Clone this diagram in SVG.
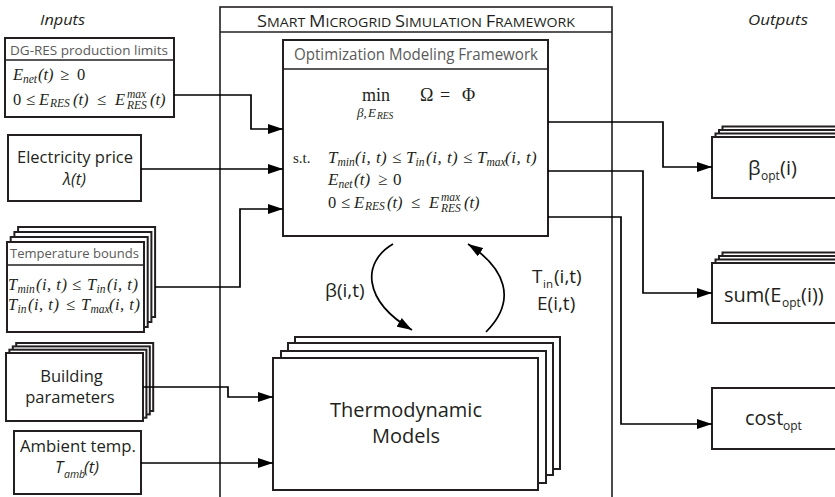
<svg xmlns="http://www.w3.org/2000/svg" width="835" height="497" viewBox="0 0 835 497">
<style>
  .box { fill: #fff; stroke: #231f20; stroke-width: 2; }
  .frame { fill: none; stroke: #231f20; stroke-width: 1.6; }
  .div { stroke: #231f20; stroke-width: 1.6; }
  .conn { fill: none; stroke: #000; stroke-width: 1.7; }
  .sans { font-family: "Open Sans", "Noto Sans", "Liberation Sans", sans-serif; fill: #231f20; }
  .gray { font-family: "Open Sans", "Noto Sans", "Liberation Sans", sans-serif; fill: #5a5a5a; }
  .it { font-style: italic; }
  .math { font-family: "Liberation Serif", "DejaVu Serif", serif; fill: #231f20; font-style: italic; }
  .up { font-style: normal; }
  .ls { letter-spacing: 0.5px; }
</style>
<defs>
  <marker id="arr" markerWidth="16" markerHeight="10" refX="15" refY="5" orient="auto" markerUnits="userSpaceOnUse">
    <path d="M0,0 L15,5 L0,10 z" fill="#000"/>
  </marker>
</defs>

<!-- Column labels -->
<text class="sans it" x="40" y="25" font-size="15" textLength="45" lengthAdjust="spacingAndGlyphs">Inputs</text>
<text class="sans it" x="748" y="25" font-size="15" textLength="60" lengthAdjust="spacingAndGlyphs">Outputs</text>

<!-- Framework container -->
<g id="framework">
  <rect class="frame" x="220" y="7" width="392" height="500"/>
  <line class="div" x1="220" y1="32" x2="612" y2="32"/>
  <text class="sans" x="257" y="27" textLength="318" lengthAdjust="spacingAndGlyphs"><tspan font-size="15.5">S</tspan><tspan font-size="12">MART </tspan><tspan font-size="15.5">M</tspan><tspan font-size="12">ICROGRID </tspan><tspan font-size="15.5">S</tspan><tspan font-size="12">IMULATION </tspan><tspan font-size="15.5">F</tspan><tspan font-size="12">RAMEWORK</tspan></text>
</g>

<!-- Optimization box -->
<g id="optimization">
  <rect class="box" x="283" y="40" width="265" height="196"/>
  <line class="div" x1="283" y1="69" x2="548" y2="69"/>
  <text class="gray" x="294" y="60" font-size="15.5" textLength="244" lengthAdjust="spacingAndGlyphs">Optimization Modeling Framework</text>
  <text class="math up" x="362" y="101" font-size="18">min</text>
  <text class="math" font-size="13"><tspan x="357" y="117">β,</tspan><tspan x="368" y="117">E</tspan><tspan x="377" y="119" font-size="9.5">RES</tspan></text>
  <text class="math up" font-size="18"><tspan x="420" y="101">Ω</tspan><tspan x="440" y="101">=</tspan><tspan x="462" y="101">Φ</tspan></text>
  <text class="math up" x="293" y="163" font-size="15">s.t.</text>
  <text class="math" font-size="17">
    <tspan x="328" y="163">T</tspan><tspan x="337.5" y="166" font-size="11.5">min</tspan><tspan x="355" y="163" class="ls">(i, t)</tspan>
    <tspan x="392" y="163" class="up">≤</tspan>
    <tspan x="406" y="163">T</tspan><tspan x="415.5" y="166" font-size="11.5">in</tspan><tspan x="426" y="163" class="ls">(i, t)</tspan>
    <tspan x="463" y="163" class="up">≤</tspan>
    <tspan x="477" y="163">T</tspan><tspan x="486.5" y="166" font-size="11.5">max</tspan><tspan x="505" y="163" class="ls">(i, t)</tspan>
  </text>
  <text class="math" font-size="17">
    <tspan x="328" y="185">E</tspan><tspan x="338.5" y="188" font-size="11.5">net</tspan><tspan x="354" y="185">(t)</tspan>
    <tspan x="378" y="185" class="up">≥</tspan><tspan x="393" y="185" class="up">0</tspan>
  </text>
  <text class="math" font-size="16.5">
    <tspan x="328" y="208" class="up">0</tspan>
    <tspan x="341" y="208" class="up">≤</tspan>
    <tspan x="354" y="208">E</tspan><tspan x="365" y="210" font-size="11.5">RES</tspan>
    <tspan x="387" y="208">(t)</tspan>
    <tspan x="411" y="208" class="up">≤</tspan>
    <tspan x="429" y="208">E</tspan><tspan x="441" y="201" font-size="11.5">max</tspan><tspan x="441" y="212" font-size="11.5">RES</tspan>
    <tspan x="464" y="208">(t)</tspan>
  </text>
</g>

<!-- Inputs -->
<g id="dg-res">
  <rect class="box" x="5" y="38" width="169" height="79"/>
  <line class="div" x1="5" y1="60" x2="174" y2="60"/>
  <text class="gray" x="10" y="55" font-size="13.5" textLength="158" lengthAdjust="spacingAndGlyphs">DG-RES production limits</text>
  <text class="math" font-size="16.5">
    <tspan x="13" y="80">E</tspan><tspan x="23" y="83" font-size="11.5">net</tspan><tspan x="38" y="80">(t)</tspan>
    <tspan x="60" y="80" class="up">≥</tspan><tspan x="77" y="80" class="up">0</tspan>
  </text>
  <text class="math" font-size="16.5">
    <tspan x="13" y="105" class="up">0</tspan>
    <tspan x="26" y="105" class="up">≤</tspan>
    <tspan x="39" y="105">E</tspan><tspan x="50" y="107" font-size="11.5">RES</tspan>
    <tspan x="73" y="105">(t)</tspan>
    <tspan x="97" y="105" class="up">≤</tspan>
    <tspan x="115" y="105">E</tspan><tspan x="127" y="98" font-size="11.5">max</tspan><tspan x="127" y="109" font-size="11.5">RES</tspan>
    <tspan x="150" y="105">(t)</tspan>
  </text>
</g>

<g id="electricity-price">
  <rect class="box" x="8" y="135" width="133" height="66"/>
  <text class="sans" x="17" y="163" font-size="16.5" textLength="116" lengthAdjust="spacingAndGlyphs">Electricity price</text>
  <text class="sans it" x="74.5" y="185" font-size="16.5" text-anchor="middle">λ(t)</text>
</g>

<g id="temperature-bounds">
  <rect class="box" x="18.1" y="227" width="137" height="90"/>
  <rect class="box" x="14.4" y="232" width="137" height="90"/>
  <rect class="box" x="10.7" y="237" width="137" height="90"/>
  <rect class="box" x="7" y="242" width="137" height="90"/>
  <line class="div" x1="7" y1="265" x2="144" y2="265"/>
  <text class="gray" x="10" y="258" font-size="13.5" textLength="129" lengthAdjust="spacingAndGlyphs">Temperature bounds</text>
  <text class="math" font-size="16.5">
    <tspan x="8" y="290">T</tspan><tspan x="17.5" y="293" font-size="11.5">min</tspan><tspan x="36" y="290" class="ls">(i, t)</tspan>
    <tspan x="72" y="290" class="up">≤</tspan>
    <tspan x="87" y="290">T</tspan><tspan x="96.5" y="293" font-size="11.5">in</tspan><tspan x="107" y="290" class="ls">(i, t)</tspan>
  </text>
  <text class="math" font-size="16.5">
    <tspan x="8" y="310">T</tspan><tspan x="17.5" y="313" font-size="11.5">in</tspan><tspan x="28" y="310" class="ls">(i, t)</tspan>
    <tspan x="66" y="310" class="up">≤</tspan>
    <tspan x="81" y="310">T</tspan><tspan x="90.5" y="313" font-size="11.5">max</tspan><tspan x="109" y="310" class="ls">(i, t)</tspan>
  </text>
</g>

<g id="building-parameters">
  <rect class="box" x="16.2" y="343" width="137" height="68"/>
  <rect class="box" x="12.8" y="346.4" width="137" height="68"/>
  <rect class="box" x="9.4" y="349.7" width="137" height="68"/>
  <rect class="box" x="6" y="353" width="137" height="68"/>
  <text class="sans" x="71.5" y="382" font-size="16.5" text-anchor="middle">Building</text>
  <text class="sans" x="70" y="403" font-size="16.5" text-anchor="middle">parameters</text>
</g>

<g id="ambient-temp">
  <rect class="box" x="14" y="431" width="127" height="63"/>
  <text class="sans" x="20" y="452" font-size="16.5" textLength="116" lengthAdjust="spacingAndGlyphs">Ambient temp.</text>
  <text class="sans it" font-size="16.5"><tspan x="55" y="473">T</tspan><tspan x="64" y="478" font-size="10.5">amb</tspan><tspan x="84" y="473">(t)</tspan></text>
</g>

<!-- Thermodynamic models -->
<g id="thermodynamic-models">
  <rect class="box" x="295" y="337" width="265" height="132"/>
  <rect class="box" x="288" y="343" width="265" height="132"/>
  <rect class="box" x="281" y="351" width="265" height="132"/>
  <rect class="box" x="273" y="358" width="265" height="132"/>
  <text class="sans" x="406" y="417" font-size="20" text-anchor="middle">Thermodynamic</text>
  <text class="sans" x="406" y="443" font-size="20" text-anchor="middle">Models</text>
</g>

<!-- Outputs -->
<g id="beta-opt">
  <rect class="box" x="722.5" y="126.5" width="130" height="61"/>
  <rect class="box" x="719" y="130" width="130" height="61"/>
  <rect class="box" x="715.5" y="133.5" width="130" height="61"/>
  <rect class="box" x="712" y="137" width="130" height="61"/>
  <text class="sans" font-size="20"><tspan x="748" y="175">β</tspan><tspan x="761" y="180" font-size="12">opt</tspan><tspan x="780" y="175">(i)</tspan></text>
</g>

<g id="sum-e-opt">
  <rect class="box" x="722.5" y="252.5" width="130" height="60"/>
  <rect class="box" x="719" y="256" width="130" height="60"/>
  <rect class="box" x="715.5" y="259.5" width="130" height="60"/>
  <rect class="box" x="712" y="263" width="130" height="60"/>
  <text class="sans" font-size="20"><tspan x="724" y="302">sum(E</tspan><tspan x="782" y="307" font-size="12">opt</tspan><tspan x="801" y="302">(i))</tspan></text>
</g>

<g id="cost-opt">
  <rect class="box" x="712" y="388" width="130" height="61"/>
  <text class="sans" font-size="20"><tspan x="745" y="425">cost</tspan><tspan x="783" y="430" font-size="12">opt</tspan></text>
</g>

<!-- Connectors -->
<g id="connectors">
  <path class="conn" d="M174,95 H251 V129 H283" marker-end="url(#arr)"/>
  <path class="conn" d="M141,169 H283" marker-end="url(#arr)"/>
  <path class="conn" d="M155,287 H240 V209 H283" marker-end="url(#arr)"/>
  <path class="conn" d="M143,387 H228 V397 H273" marker-end="url(#arr)"/>
  <path class="conn" d="M141,463 H273" marker-end="url(#arr)"/>
  <path class="conn" d="M548,122 H663 V167 H712" marker-end="url(#arr)"/>
  <path class="conn" d="M548,171 H643 V293 H712" marker-end="url(#arr)"/>
  <path class="conn" d="M548,217 H621 V424 H712" marker-end="url(#arr)"/>
  <path class="conn" d="M393,244 C362,262 362,300 412,330" marker-end="url(#arr)"/>
  <path class="conn" d="M486,332 C518,300 505,268 468,244" marker-end="url(#arr)"/>
  <text class="sans" font-size="19"><tspan x="325" y="297">β(i,t)</tspan></text>
  <text class="sans" font-size="19"><tspan x="532" y="283">T</tspan><tspan x="543" y="288" font-size="11.5">in</tspan><tspan x="554" y="283">(i,t)</tspan><tspan x="537" y="310">E(i,t)</tspan></text>
</g>
</svg>
